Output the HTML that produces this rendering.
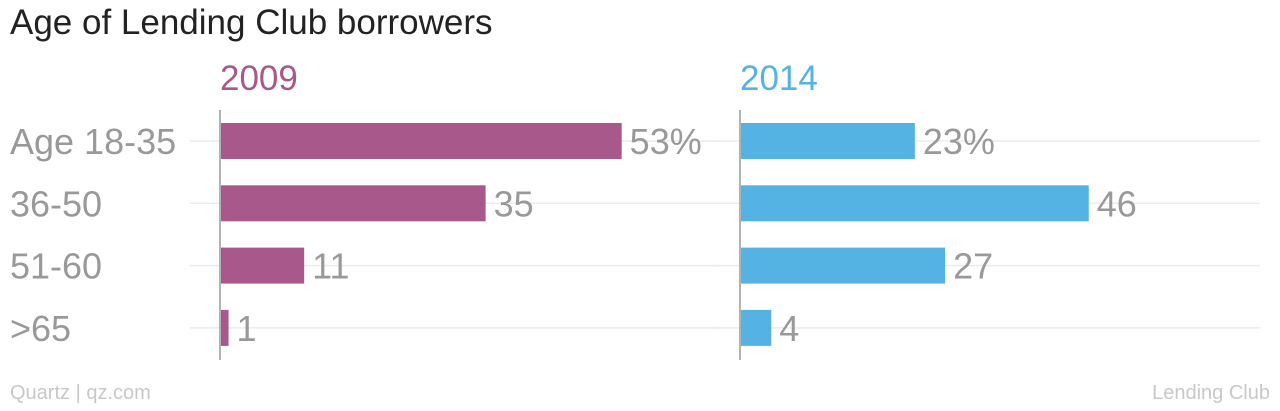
<!DOCTYPE html>
<html><head><meta charset="utf-8"><style>
body{margin:0;background:#fff;width:1280px;height:406px;overflow:hidden;font-family:"Liberation Sans",sans-serif}
</style></head><body>
<svg width="1280" height="406" id="svg" style="font-family:'Liberation Sans',sans-serif">
<text x="10" y="34" font-size="35" fill="#222">Age of Lending Club borrowers</text>
<text x="220" y="90" font-size="35" fill="#a8588a">2009</text>
<text x="740" y="90" font-size="35" fill="#55b3e4">2014</text>
<text x="10" y="399" font-size="20" fill="#c8c8c8">Quartz | qz.com</text>
<text x="1270" y="399" font-size="20" fill="#c8c8c8" text-anchor="end">Lending Club</text>
<g id="plot"></g>
</svg>
<script>
const categories=["Age 18-35","36-50","51-60",">65"];
const values2009=[53,35,11,1];
const values2014=[23,46,27,4];
const labels2009=["53%","35","11","1"];
const labels2014=["23%","46","27","4"];
const NS="http://www.w3.org/2000/svg";
const g=document.getElementById("plot");
const scale=v=>v*7.56;
const yc=i=>141+i*62.3;
function mk(t,a){const e=document.createElementNS(NS,t);for(const k in a)e.setAttribute(k,a[k]);g.appendChild(e);return e;}
categories.forEach((c,i)=>{
  const l=mk("text",{x:10,y:yc(i)+13,"font-size":36,fill:"#999"});l.textContent=c;
  
  
});
function panel(x0,gridEnd,vals,labs,color,name){
  vals.forEach((v,i)=>{
    const gl=mk("line",{x1:x0-30,x2:gridEnd,y1:yc(i),y2:yc(i),stroke:"#ececec","stroke-width":1.5});
    
    
  });
  vals.forEach((v,i)=>{
    const r=mk("rect",{x:x0+1,y:yc(i)-18,width:scale(v),height:36,fill:color});
    
    
    const t=mk("text",{x:x0+1+scale(v)+8,y:yc(i)+13,"font-size":36,fill:"#999"});t.textContent=labs[i];
    
    
  });
  const ax=mk("line",{x1:x0,x2:x0,y1:110,y2:360,stroke:"#999","stroke-width":1.5});
  
  
}
panel(220,720,values2009,labels2009,"#a8588a","2009");
panel(740,1260,values2014,labels2014,"#55b3e4","2014");
</script>
</body></html>
